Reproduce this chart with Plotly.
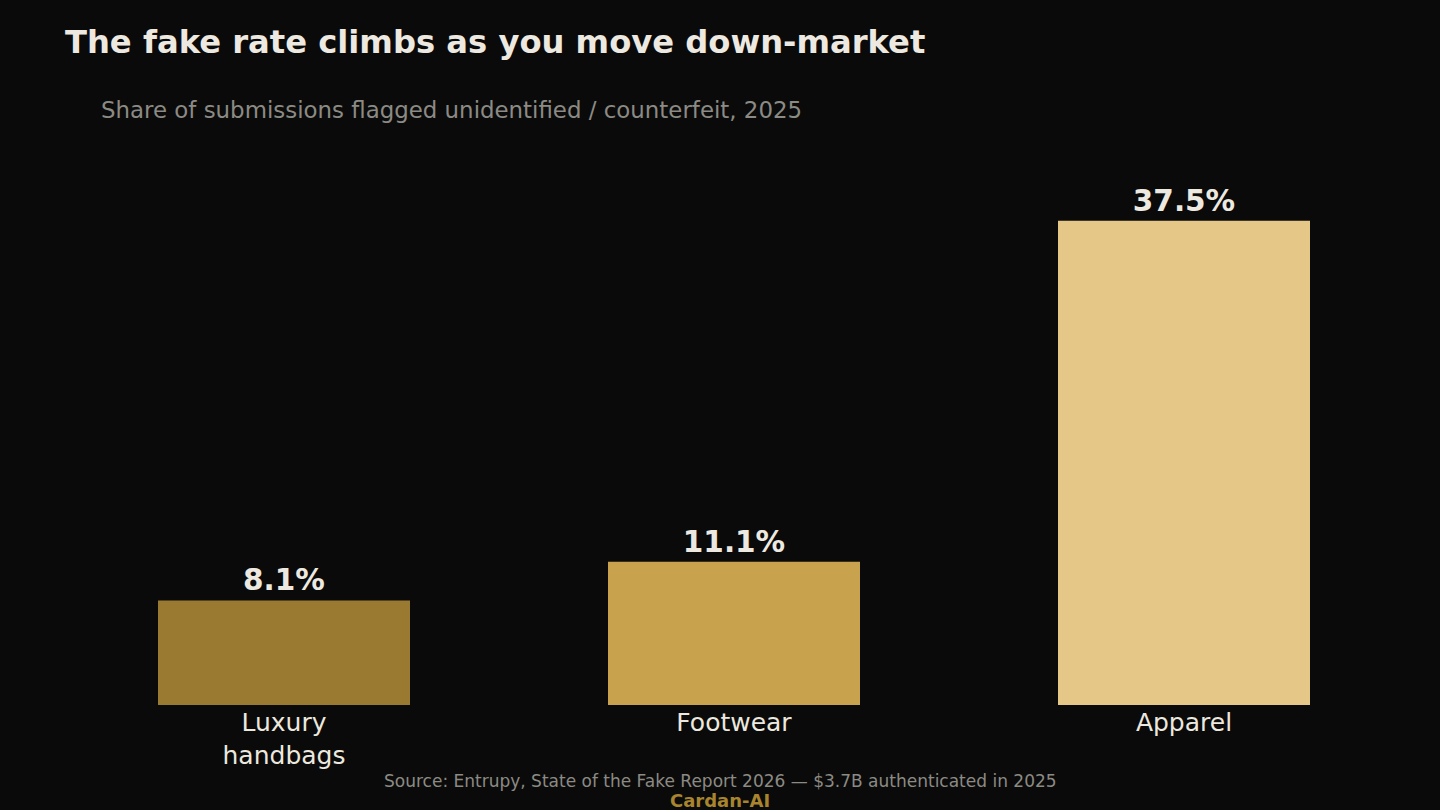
import plotly.graph_objects as go

categories = ["Luxury<br>handbags", "Footwear", "Apparel"]
values = [8.1, 11.1, 37.5]
labels = ["8.1%", "11.1%", "37.5%"]
colors = ["#9a7a30", "#c9a24e", "#e5c788"]

BG = "#0a0a0a"
FONT = "DejaVu Sans"

fig = go.Figure(
    go.Bar(
        x=categories,
        y=values,
        text=labels,
        textposition="outside",
        textfont=dict(family=FONT, size=29.5, color="#ede9e0", weight="bold"),
        marker=dict(color=colors, line=dict(width=0)),
        width=0.56,
        cliponaxis=False,
        hoverinfo="skip",
    )
)

fig.update_layout(
    width=1440,
    height=810,
    paper_bgcolor=BG,
    plot_bgcolor=BG,
    margin=dict(l=59, r=31, t=148, b=105, pad=0),
    showlegend=False,
    font=dict(family=FONT, color="#ede9e0"),
    title=dict(
        text="<b>The fake rate climbs as you move down-market</b>",
        font=dict(family=FONT, size=32.2, color="#ede9e0"),
        xref="container", yref="container",
        x=65 / 1440, xanchor="left",
        y=1 - 42 / 810, yanchor="middle",
    ),
    xaxis=dict(
        showgrid=False, zeroline=False, showline=False, ticks="",
        tickfont=dict(family=FONT, size=25, color="#ece8df"),
    ),
    yaxis=dict(
        range=[0, 37.5 * 1.15], visible=False, showgrid=False, zeroline=False,
    ),
    annotations=[
        dict(
            text="Share of submissions flagged unidentified / counterfeit, 2025",
            xref="paper", yref="paper", x=(99 - 59) / 1350, y=(705 - 110) / 557,
            xanchor="left", yanchor="middle", showarrow=False,
            font=dict(family=FONT, size=22.9, color="#8c8a84"),
        ),
        dict(
            text="Source: Entrupy, State of the Fake Report 2026 — $3.7B authenticated in 2025",
            xref="paper", yref="paper", x=(720 - 59) / 1350, y=(705 - 781) / 557,
            xanchor="center", yanchor="middle", showarrow=False,
            font=dict(family=FONT, size=17, color="#8c8a84"),
        ),
        dict(
            text="<b>Cardan-AI</b>",
            xref="paper", yref="paper", x=(720 - 59) / 1350, y=(705 - 800) / 557,
            xanchor="center", yanchor="middle", showarrow=False,
            font=dict(family=FONT, size=18, color="#a8842f"),
        ),
    ],
)

fig.write_html("out.html")
